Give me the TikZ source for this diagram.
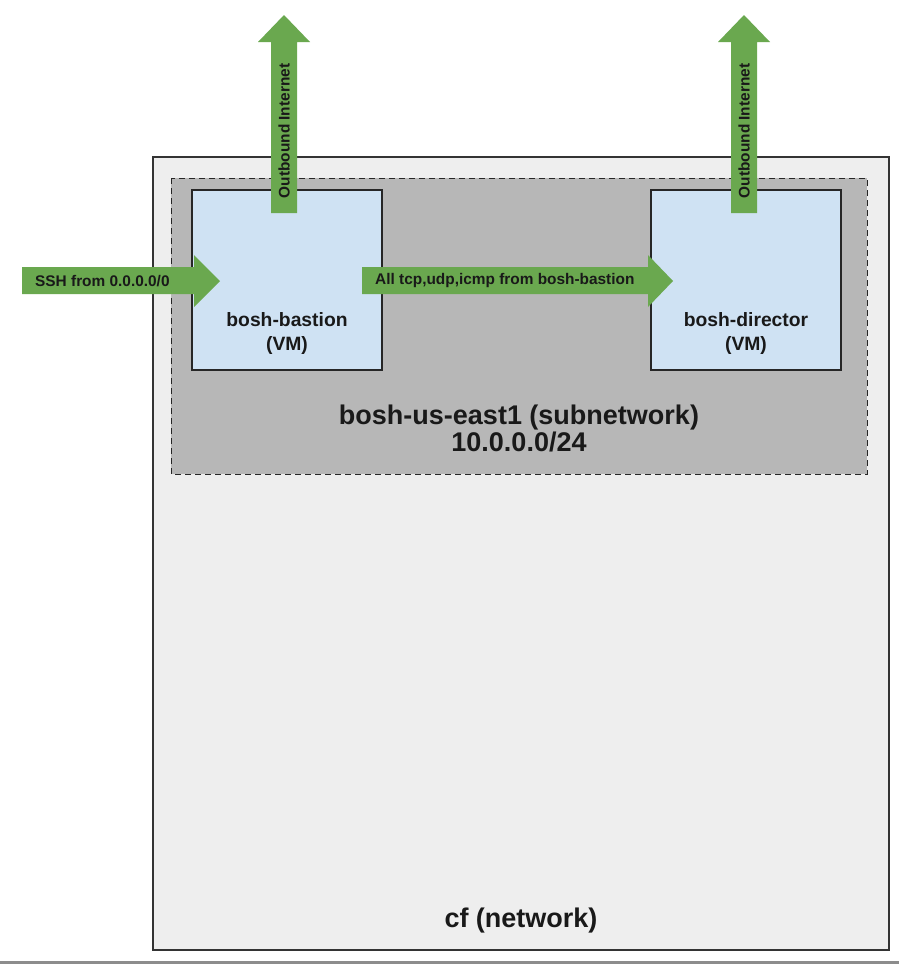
\documentclass[tikz,border=0pt]{standalone}
\usepackage{fontspec}
\setmainfont{Liberation Sans}
\begin{document}
\begin{tikzpicture}[x=1pt,y=-1pt,
  netbox/.style={fill=netgray,draw=black!80,line width=1.2pt},
  subbox/.style={fill=subgray,draw=black!85,line width=1pt,dash pattern=on 6pt off 4pt},
  vmbox/.style={fill=vmblue,draw=black!85,line width=1.2pt},
  garrow/.style={fill=arrowgreen,draw=none},
  small/.style={font=\bfseries\fontsize{15.4}{17}\selectfont,text=black!90,inner sep=0pt},
  vmlabel/.style={font=\bfseries\fontsize{19.3}{24}\selectfont,align=center,text=black!90,inner sep=0pt},
  biglabel/.style={font=\bfseries\fontsize{27}{27}\selectfont,align=center,text=black!90,inner sep=0pt}]
\definecolor{netgray}{HTML}{EEEEEE}
\definecolor{subgray}{HTML}{B7B7B7}
\definecolor{vmblue}{HTML}{CFE2F3}
\definecolor{arrowgreen}{HTML}{6AA84F}
\useasboundingbox (0,0) rectangle (899,964);
\fill[white] (0,0) rectangle (899,964);
\draw[line width=3pt,draw=black!45] (0,962.5) -- (899,962.5);
% network
\draw[netbox] (153,157) rectangle (889,950);
\node[biglabel] (cf) at (521,921) {cf (network)};
% subnetwork
\draw[subbox] (171,178) rectangle (867,474);
\node[biglabel] (sub) at (519,428) {bosh-us-east1 (subnetwork)\\10.0.0.0/24};
% VMs
\draw[vmbox] (192,190) rectangle (382,370);
\draw[vmbox] (651,190) rectangle (841,370);
\node[vmlabel] (bastion) at (287,334) {bosh-bastion\\(VM)};
\node[vmlabel] (director) at (746,334) {bosh-director\\(VM)};
% arrows
\fill[garrow] (22,267) -- (194,267) -- (194,255) -- (220,281) -- (194,307) -- (194,294) -- (22,294) -- cycle;
\node[small,anchor=west] (ssh) at (35,281) {SSH from 0.0.0.0/0};
\fill[garrow] (362,267) -- (648,267) -- (648,255) -- (673,281) -- (648,307) -- (648,294) -- (362,294) -- cycle;
\node[small,anchor=west] (all) at (375,281) {All tcp,udp,icmp from bosh-bastion};
\fill[garrow] (271,213) -- (271,42) -- (258,42) -- (284,15) -- (310,42) -- (297,42) -- (297,213) -- cycle;
\node[small,rotate=90] (out1) at (284,131) {Outbound Internet};
\fill[garrow] (731,213) -- (731,42) -- (718,42) -- (744,15) -- (770,42) -- (757,42) -- (757,213) -- cycle;
\node[small,rotate=90] (out2) at (744,131) {Outbound Internet};
\end{tikzpicture}
\end{document}
